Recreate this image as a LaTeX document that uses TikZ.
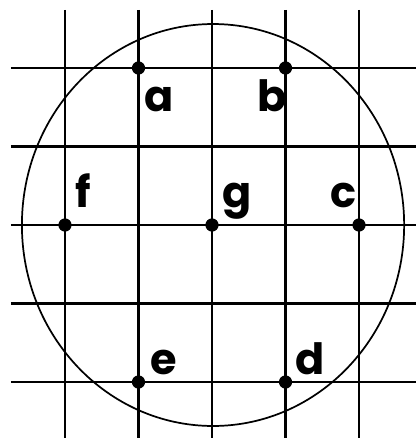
\documentclass[tikz,border=0pt]{standalone}
\usepackage{fontspec}
\setmainfont{Poppins}
\usepackage{tikz}
\usetikzlibrary{positioning}

\begin{document}
\begin{tikzpicture}[
  x=1.5cm, y=1.602cm,
  every node/.style={font=\fontsize{25}{28}\selectfont},
  gridline/.style={line width=1.7pt, black},
  rim/.style={line width=1pt, black},
  dot/.style={circle, fill=black, inner sep=0pt, minimum size=0.27cm},
  lbl/.style={inner sep=0pt, anchor=base west, font=\fontsize{25}{28}\selectfont\bfseries},
]
\useasboundingbox (-2.884,-2.713) rectangle (2.776,2.866);

% grid
\foreach \i in {-2,...,2} {
  \draw[gridline] (\i,2.74) -- (\i,-2.72);
  \draw[gridline] (-2.735,\i) -- (2.78,\i);
}

% outer circle
\draw[rim] (0.014,0) ellipse [x radius=2.6, y radius=2.56];

% points
\node[dot] (a) at (-1,2)  {};
\node[dot] (b) at (1,2)   {};
\node[dot] (f) at (-2,0)  {};
\node[dot] (g) at (0,0)   {};
\node[dot] (c) at (2,0)   {};
\node[dot] (e) at (-1,-2) {};
\node[dot] (d) at (1,-2)  {};

% labels
\node[lbl] (la) at (-0.925,1.44)  {a};
\node[lbl] (lb) at (0.612,1.44)   {b};
\node[lbl] (lf) at (-1.864,0.229) {f};
\node[lbl] (lg) at (0.136,0.229)  {g};
\node[lbl] (lc) at (1.605,0.229)  {c};
\node[lbl] (le) at (-0.844,-1.898){e};
\node[lbl] (ld) at (1.129,-1.898) {d};

\end{tikzpicture}
\end{document}
